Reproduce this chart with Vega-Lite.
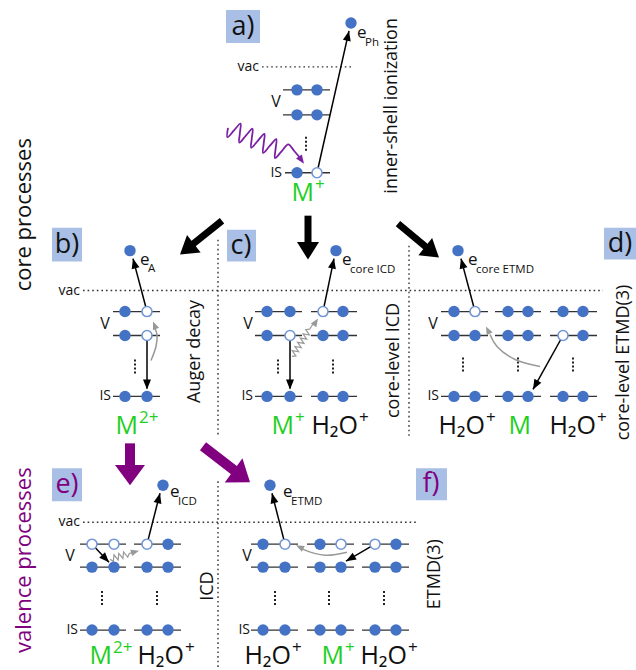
{
  "$schema": "https://vega.github.io/schema/vega-lite/v6.json",
  "width": 636,
  "height": 670,
  "padding": 0,
  "autosize": {"type": "fit", "contains": "padding"},
  "background": "white",
  "config": {"view": {"stroke": null}, "text": {"font": "Open Sans"}},
  "datasets": {
    "box": [
      {"x": 226, "y": 10, "x2": 260, "y2": 43},
      {"x": 52, "y": 228, "x2": 82, "y2": 262},
      {"x": 227, "y": 230, "x2": 256, "y2": 262},
      {"x": 604, "y": 228, "x2": 636, "y2": 260},
      {"x": 52, "y": 469, "x2": 82, "y2": 502},
      {"x": 416, "y": 469, "x2": 447, "y2": 501}
    ],
    "dotted": [
      {"x": 262, "y": 67, "x2": 354, "y2": 67},
      {"x": 83, "y": 291, "x2": 603, "y2": 291},
      {"x": 83, "y": 523, "x2": 417, "y2": 523},
      {"x": 218, "y": 240, "x2": 218, "y2": 438},
      {"x": 218, "y": 482, "x2": 218, "y2": 670},
      {"x": 409, "y": 246, "x2": 409, "y2": 438}
    ],
    "lev": [
      {"x": 283, "x2": 330, "y": 90}, {"x": 283, "x2": 330, "y": 115}, {"x": 285, "x2": 330, "y": 173},
      {"x": 113, "x2": 160, "y": 312}, {"x": 113, "x2": 160, "y": 336}, {"x": 113, "x2": 160, "y": 397},
      {"x": 255, "x2": 302, "y": 312}, {"x": 255, "x2": 302, "y": 336}, {"x": 255, "x2": 302, "y": 397},
      {"x": 311, "x2": 357, "y": 312}, {"x": 311, "x2": 357, "y": 336}, {"x": 311, "x2": 357, "y": 397},
      {"x": 441, "x2": 488, "y": 312}, {"x": 441, "x2": 488, "y": 336}, {"x": 441, "x2": 488, "y": 397},
      {"x": 495, "x2": 541, "y": 312}, {"x": 495, "x2": 541, "y": 336}, {"x": 495, "x2": 541, "y": 397},
      {"x": 550, "x2": 597, "y": 312}, {"x": 550, "x2": 597, "y": 336}, {"x": 550, "x2": 597, "y": 397},
      {"x": 80, "x2": 126, "y": 545}, {"x": 80, "x2": 126, "y": 568}, {"x": 80, "x2": 126, "y": 631},
      {"x": 134, "x2": 181, "y": 545}, {"x": 134, "x2": 181, "y": 568}, {"x": 134, "x2": 181, "y": 631},
      {"x": 251, "x2": 298, "y": 545}, {"x": 251, "x2": 298, "y": 568}, {"x": 251, "x2": 298, "y": 631},
      {"x": 307, "x2": 354, "y": 545}, {"x": 307, "x2": 354, "y": 568}, {"x": 307, "x2": 354, "y": 631},
      {"x": 362, "x2": 409, "y": 545}, {"x": 362, "x2": 409, "y": 568}, {"x": 362, "x2": 409, "y": 631}
    ],
    "vd": [
      {"x": 306, "y": 137, "y2": 153},
      {"x": 135, "y": 360, "y2": 376},
      {"x": 278, "y": 360, "y2": 376}, {"x": 333, "y": 360, "y2": 376},
      {"x": 463, "y": 358, "y2": 374}, {"x": 518, "y": 358, "y2": 374}, {"x": 573, "y": 358, "y2": 374},
      {"x": 102, "y": 592, "y2": 608}, {"x": 157, "y": 592, "y2": 608},
      {"x": 275, "y": 592, "y2": 608}, {"x": 329, "y": 592, "y2": 608}, {"x": 384, "y": 592, "y2": 608}
    ],
    "dots": [
      {"x": 297, "y": 90, "f": 1}, {"x": 317, "y": 90, "f": 1}, {"x": 297, "y": 115, "f": 1}, {"x": 317, "y": 115, "f": 1}, {"x": 297, "y": 173, "f": 1}, {"x": 317, "y": 173, "f": 0},
      {"x": 351, "y": 23, "f": 1}, {"x": 130, "y": 251, "f": 1}, {"x": 336, "y": 251, "f": 1}, {"x": 458, "y": 251, "f": 1}, {"x": 163, "y": 486, "f": 1}, {"x": 270, "y": 486, "f": 1},
      {"x": 125, "y": 312, "f": 1}, {"x": 147, "y": 312, "f": 0}, {"x": 125, "y": 336, "f": 1}, {"x": 147, "y": 336, "f": 0}, {"x": 125, "y": 397, "f": 1}, {"x": 147, "y": 397, "f": 1},
      {"x": 267, "y": 312, "f": 1}, {"x": 290, "y": 312, "f": 1}, {"x": 267, "y": 336, "f": 1}, {"x": 290, "y": 336, "f": 0}, {"x": 267, "y": 397, "f": 1}, {"x": 290, "y": 397, "f": 1},
      {"x": 323, "y": 312, "f": 0}, {"x": 343, "y": 312, "f": 1}, {"x": 323, "y": 336, "f": 1}, {"x": 343, "y": 336, "f": 1}, {"x": 323, "y": 397, "f": 1}, {"x": 343, "y": 397, "f": 1},
      {"x": 454, "y": 312, "f": 1}, {"x": 475, "y": 312, "f": 0}, {"x": 508, "y": 312, "f": 1}, {"x": 528, "y": 312, "f": 1}, {"x": 563, "y": 312, "f": 1}, {"x": 583, "y": 312, "f": 1},
      {"x": 454, "y": 336, "f": 1}, {"x": 475, "y": 336, "f": 1}, {"x": 508, "y": 336, "f": 1}, {"x": 528, "y": 336, "f": 1}, {"x": 563, "y": 336, "f": 0}, {"x": 583, "y": 336, "f": 1},
      {"x": 454, "y": 397, "f": 1}, {"x": 475, "y": 397, "f": 1}, {"x": 508, "y": 397, "f": 1}, {"x": 528, "y": 397, "f": 1}, {"x": 563, "y": 397, "f": 1}, {"x": 583, "y": 397, "f": 1},
      {"x": 92, "y": 545, "f": 0}, {"x": 114, "y": 545, "f": 0}, {"x": 147, "y": 545, "f": 0}, {"x": 168, "y": 545, "f": 1},
      {"x": 92, "y": 568, "f": 1}, {"x": 114, "y": 568, "f": 1}, {"x": 147, "y": 568, "f": 1}, {"x": 168, "y": 568, "f": 1},
      {"x": 92, "y": 631, "f": 1}, {"x": 114, "y": 631, "f": 1}, {"x": 147, "y": 631, "f": 1}, {"x": 168, "y": 631, "f": 1},
      {"x": 263, "y": 545, "f": 1}, {"x": 285, "y": 545, "f": 0}, {"x": 320, "y": 545, "f": 1}, {"x": 341, "y": 545, "f": 0}, {"x": 375, "y": 545, "f": 0}, {"x": 396, "y": 545, "f": 1},
      {"x": 263, "y": 568, "f": 1}, {"x": 285, "y": 568, "f": 1}, {"x": 320, "y": 568, "f": 1}, {"x": 341, "y": 568, "f": 1}, {"x": 375, "y": 568, "f": 1}, {"x": 396, "y": 568, "f": 1},
      {"x": 263, "y": 631, "f": 1}, {"x": 285, "y": 631, "f": 1}, {"x": 320, "y": 631, "f": 1}, {"x": 341, "y": 631, "f": 1}, {"x": 375, "y": 631, "f": 1}, {"x": 396, "y": 631, "f": 1}
    ],
    "photon": [
      {"o": 1, "x": 228, "y": 128}, {"o": 2, "x": 227.4, "y": 137.5}, {"o": 3, "x": 234.0, "y": 130.6}, {"o": 4, "x": 240.5, "y": 123.7},
      {"o": 5, "x": 239.9, "y": 133.2}, {"o": 6, "x": 239.3, "y": 142.8}, {"o": 7, "x": 245.9, "y": 135.8}, {"o": 8, "x": 252.5, "y": 128.9},
      {"o": 9, "x": 251.8, "y": 138.4}, {"o": 10, "x": 251.2, "y": 148.0}, {"o": 11, "x": 257.8, "y": 141.0}, {"o": 12, "x": 264.4, "y": 134.1},
      {"o": 13, "x": 263.7, "y": 143.6}, {"o": 14, "x": 263.1, "y": 153.2}, {"o": 15, "x": 269.7, "y": 146.2}, {"o": 16, "x": 276.3, "y": 139.3},
      {"o": 17, "x": 275.6, "y": 148.9}, {"o": 18, "x": 275.0, "y": 158.4}, {"o": 19, "x": 281.6, "y": 151.5}, {"o": 20, "x": 288.2, "y": 144.5},
      {"o": 21, "x": 294, "y": 151}, {"o": 22, "x": 300, "y": 158}
    ],
    "zig": [
      {"g": "c", "o": 0, "x": 292, "y": 357}, {"g": "c", "o": 1, "x": 295.9, "y": 356.5}, {"g": "c", "o": 2, "x": 292.2, "y": 351.2},
      {"g": "c", "o": 3, "x": 298.6, "y": 352.3}, {"g": "c", "o": 4, "x": 294.9, "y": 347.0}, {"g": "c", "o": 5, "x": 301.3, "y": 348.1},
      {"g": "c", "o": 6, "x": 297.6, "y": 342.8}, {"g": "c", "o": 7, "x": 304.0, "y": 343.9}, {"g": "c", "o": 8, "x": 300.3, "y": 338.6},
      {"g": "c", "o": 9, "x": 306.7, "y": 339.7}, {"g": "c", "o": 10, "x": 303.0, "y": 334.4}, {"g": "c", "o": 11, "x": 309.4, "y": 335.5},
      {"g": "c", "o": 12, "x": 305.7, "y": 330.2}, {"g": "c", "o": 13, "x": 309.6, "y": 329.7}, {"g": "c", "o": 14, "x": 314, "y": 323},
      {"g": "e", "o": 0, "x": 110, "y": 560}, {"g": "e", "o": 1, "x": 113.3, "y": 562.2}, {"g": "e", "o": 2, "x": 114.0, "y": 555.7},
      {"g": "e", "o": 3, "x": 118.1, "y": 560.8}, {"g": "e", "o": 4, "x": 118.8, "y": 554.3}, {"g": "e", "o": 5, "x": 122.9, "y": 559.3},
      {"g": "e", "o": 6, "x": 123.6, "y": 552.8}, {"g": "e", "o": 7, "x": 127.7, "y": 557.9}, {"g": "e", "o": 8, "x": 129.3, "y": 554.3},
      {"g": "e", "o": 9, "x": 134, "y": 553}
    ],
    "arcs": [
      {"g": "b", "o": 1, "x": 151, "y": 361}, {"g": "b", "o": 2, "x": 156, "y": 347}, {"g": "b", "o": 3, "x": 157, "y": 335}, {"g": "b", "o": 4, "x": 155, "y": 329},
      {"g": "d", "o": 1, "x": 540, "y": 367}, {"g": "d", "o": 2, "x": 515, "y": 360}, {"g": "d", "o": 3, "x": 497, "y": 347}, {"g": "d", "o": 4, "x": 490, "y": 335},
      {"g": "f", "o": 1, "x": 347, "y": 553}, {"g": "f", "o": 2, "x": 325, "y": 556}, {"g": "f", "o": 3, "x": 305, "y": 551}, {"g": "f", "o": 4, "x": 300, "y": 548}
    ],
    "thin": [
      {"x": 317, "y": 173, "x2": 349, "y2": 31},
      {"x": 147, "y": 312, "x2": 133, "y2": 259},
      {"x": 147, "y": 336, "x2": 147, "y2": 389},
      {"x": 290, "y": 336, "x2": 290, "y2": 389},
      {"x": 323, "y": 312, "x2": 334, "y2": 259},
      {"x": 475, "y": 312, "x2": 461, "y2": 259},
      {"x": 563, "y": 336, "x2": 533, "y2": 390},
      {"x": 92, "y": 545, "x2": 109, "y2": 563},
      {"x": 147, "y": 545, "x2": 160, "y2": 494},
      {"x": 285, "y": 545, "x2": 272, "y2": 494},
      {"x": 375, "y": 545, "x2": 346, "y2": 562}
    ],
    "big": [
      {"x": 222, "y": 221, "x2": 191, "y2": 246},
      {"x": 308, "y": 216, "x2": 308, "y2": 245},
      {"x": 398, "y": 224, "x2": 428, "y2": 249}
    ],
    "pur": [
      {"x": 130, "y": 444, "x2": 130, "y2": 470},
      {"x": 203, "y": 447, "x2": 238, "y2": 474}
    ],
    "headThin": [
      {"x": 349, "y": 31, "a": 12.7}, {"x": 133, "y": 259, "a": -14.8}, {"x": 147, "y": 390, "a": 180},
      {"x": 290, "y": 390, "a": 180}, {"x": 334, "y": 259, "a": 11.7}, {"x": 461, "y": 259, "a": -14.8},
      {"x": 533, "y": 390, "a": -150.9}, {"x": 109, "y": 563, "a": 136.6}, {"x": 160, "y": 494, "a": 14.3},
      {"x": 272, "y": 494, "a": -14.3}, {"x": 346, "y": 562, "a": -120.4}
    ],
    "headGray": [
      {"x": 153, "y": 322, "a": -21.8}, {"x": 486, "y": 327, "a": -26.6}, {"x": 296, "y": 546, "a": -63.4},
      {"x": 318, "y": 319, "a": 32.7}, {"x": 139, "y": 551.5, "a": 73.5}
    ],
    "headPhoton": [{"x": 304, "y": 164, "a": 145}],
    "headBig": [
      {"x": 180, "y": 255, "a": -128.2}, {"x": 308, "y": 260, "a": 180}, {"x": 439, "y": 258, "a": 128.7}
    ],
    "headPur": [
      {"x": 130, "y": 486, "a": 180}, {"x": 250, "y": 483, "a": 126.1}
    ],
    "panel": [
      {"x": 243, "y": 27, "t": "a)", "g": "k"}, {"x": 67, "y": 245, "t": "b)", "g": "k"},
      {"x": 241, "y": 246, "t": "c)", "g": "k"}, {"x": 620, "y": 244, "t": "d)", "g": "k"},
      {"x": 67, "y": 486, "t": "e)", "g": "p"}, {"x": 431, "y": 485, "t": "f)", "g": "p"}
    ],
    "side": [
      {"x": 24, "y": 215, "t": "core processes", "g": "k"},
      {"x": 24, "y": 561, "t": "valence processes", "g": "p"}
    ],
    "proc": [
      {"x": 392, "y": 106, "t": "inner-shell ionization"},
      {"x": 195, "y": 352, "t": "Auger decay"},
      {"x": 394, "y": 361, "t": "core-level ICD"},
      {"x": 624, "y": 363, "t": "core-level ETMD(3)"},
      {"x": 208, "y": 587, "t": "ICD"},
      {"x": 435, "y": 575, "t": "ETMD(3)"}
    ],
    "vac": [
      {"x": 259, "y": 67, "t": "vac"}, {"x": 80, "y": 291, "t": "vac"}, {"x": 80, "y": 523, "t": "vac"}
    ],
    "vlab": [
      {"x": 276, "y": 102, "t": "V"}, {"x": 105, "y": 324, "t": "V"}, {"x": 248, "y": 324, "t": "V"},
      {"x": 433, "y": 324, "t": "V"}, {"x": 70, "y": 557, "t": "V"}, {"x": 247, "y": 557, "t": "V"}
    ],
    "islab": [
      {"x": 282, "y": 173, "t": "IS"}, {"x": 111, "y": 397, "t": "IS"}, {"x": 253, "y": 397, "t": "IS"},
      {"x": 439, "y": 397, "t": "IS"}, {"x": 78, "y": 631, "t": "IS"}, {"x": 250, "y": 631, "t": "IS"}
    ],
    "elab": [
      {"x": 357, "y": 38, "t": "e"}, {"x": 140, "y": 265, "t": "e"}, {"x": 342, "y": 265, "t": "e"},
      {"x": 468, "y": 265, "t": "e"}, {"x": 170, "y": 498, "t": "e"}, {"x": 283, "y": 498, "t": "e"}
    ],
    "esub": [
      {"x": 365, "y": 46, "t": "Ph"}, {"x": 148, "y": 272, "t": "A"}, {"x": 350, "y": 273, "t": "core ICD"},
      {"x": 476, "y": 273, "t": "core ETMD"}, {"x": 178, "y": 506, "t": "ICD"}, {"x": 291, "y": 506, "t": "ETMD"}
    ],
    "spBase": [
      {"x": 314, "y": 201, "t": "M", "g": "g"},
      {"x": 138, "y": 435, "t": "M", "g": "g"},
      {"x": 294, "y": 435, "t": "M", "g": "g"}, {"x": 358, "y": 435, "t": "H₂O", "g": "k"},
      {"x": 485, "y": 435, "t": "H₂O", "g": "k"}, {"x": 531, "y": 435, "t": "M", "g": "g"}, {"x": 596, "y": 435, "t": "H₂O", "g": "k"},
      {"x": 112, "y": 665, "t": "M", "g": "g"}, {"x": 184, "y": 665, "t": "H₂O", "g": "k"},
      {"x": 291, "y": 665, "t": "H₂O", "g": "k"}, {"x": 344, "y": 665, "t": "M", "g": "g"}, {"x": 407, "y": 665, "t": "H₂O", "g": "k"}
    ],
    "spSup": [
      {"x": 315, "y": 190, "t": "+", "g": "g"},
      {"x": 139, "y": 424, "t": "2+", "g": "g"},
      {"x": 295, "y": 424, "t": "+", "g": "g"}, {"x": 359, "y": 424, "t": "+", "g": "k"},
      {"x": 486, "y": 424, "t": "+", "g": "k"}, {"x": 597, "y": 424, "t": "+", "g": "k"},
      {"x": 113, "y": 654, "t": "2+", "g": "g"}, {"x": 185, "y": 654, "t": "+", "g": "k"},
      {"x": 292, "y": 654, "t": "+", "g": "k"}, {"x": 345, "y": 654, "t": "+", "g": "g"}, {"x": 408, "y": 654, "t": "+", "g": "k"}
    ]
  },
  "encoding": {
    "x": {"field": "x", "type": "quantitative", "scale": {"domain": [0, 636], "nice": false, "zero": false}, "axis": null},
    "y": {"field": "y", "type": "quantitative", "scale": {"domain": [0, 670], "nice": false, "zero": false, "reverse": true}, "axis": null}
  },
  "layer": [
    {"data": {"name": "box"}, "mark": {"type": "rect", "color": "#a9bfe5"},
     "encoding": {"x2": {"field": "x2"}, "y2": {"field": "y2"}}},
    {"data": {"name": "dotted"}, "mark": {"type": "rule", "color": "#333333", "strokeWidth": 1.4, "strokeDash": [1.6, 3]},
     "encoding": {"x2": {"field": "x2"}, "y2": {"field": "y2"}}},
    {"data": {"name": "lev"}, "mark": {"type": "rule", "color": "#333333", "strokeWidth": 1.3},
     "encoding": {"x2": {"field": "x2"}}},
    {"data": {"name": "vd"}, "mark": {"type": "rule", "color": "#222222", "strokeWidth": 2, "strokeDash": [2, 2]},
     "encoding": {"y2": {"field": "y2"}}},
    {"data": {"name": "photon"}, "mark": {"type": "line", "color": "#7a1fa2", "strokeWidth": 1.8, "interpolate": "cardinal"},
     "encoding": {"order": {"field": "o", "type": "quantitative"}}},
    {"data": {"name": "zig"}, "mark": {"type": "line", "color": "#999999", "strokeWidth": 1.2},
     "encoding": {"detail": {"field": "g"}, "order": {"field": "o", "type": "quantitative"}}},
    {"data": {"name": "arcs"}, "mark": {"type": "line", "color": "#999999", "strokeWidth": 1.5, "interpolate": "natural"},
     "encoding": {"detail": {"field": "g"}, "order": {"field": "o", "type": "quantitative"}}},
    {"data": {"name": "thin"}, "mark": {"type": "rule", "color": "#000000", "strokeWidth": 1.5},
     "encoding": {"x2": {"field": "x2"}, "y2": {"field": "y2"}}},
    {"data": {"name": "big"}, "mark": {"type": "rule", "color": "#000000", "strokeWidth": 7},
     "encoding": {"x2": {"field": "x2"}, "y2": {"field": "y2"}}},
    {"data": {"name": "pur"}, "mark": {"type": "rule", "color": "#800080", "strokeWidth": 10},
     "encoding": {"x2": {"field": "x2"}, "y2": {"field": "y2"}}},
    {"data": {"name": "dots"}, "transform": [{"filter": "datum.f == 1"}],
     "mark": {"type": "point", "shape": "circle", "filled": true, "size": 130, "color": "#4472c4", "opacity": 1}},
    {"data": {"name": "dots"}, "transform": [{"filter": "datum.f == 0"}],
     "mark": {"type": "point", "shape": "circle", "filled": false, "size": 100, "fill": "#ffffff", "fillOpacity": 1, "stroke": "#7397d6", "strokeWidth": 1.6, "opacity": 1}},
    {"data": {"name": "headThin"}, "mark": {"type": "point", "shape": "M0,0L-0.5,1.25L0.5,1.25Z", "filled": true, "size": 256, "color": "#000000", "opacity": 1},
     "encoding": {"angle": {"field": "a", "type": "quantitative", "scale": null}}},
    {"data": {"name": "headGray"}, "mark": {"type": "point", "shape": "M0,0L-0.5,1.25L0.5,1.25Z", "filled": true, "size": 170, "color": "#999999", "opacity": 1},
     "encoding": {"angle": {"field": "a", "type": "quantitative", "scale": null}}},
    {"data": {"name": "headPhoton"}, "mark": {"type": "point", "shape": "M0,0L-0.5,1.25L0.5,1.25Z", "filled": true, "size": 200, "color": "#7a1fa2", "opacity": 1},
     "encoding": {"angle": {"field": "a", "type": "quantitative", "scale": null}}},
    {"data": {"name": "headBig"}, "mark": {"type": "point", "shape": "M0,0L-1,1.6L1,1.6Z", "filled": true, "size": 484, "color": "#000000", "opacity": 1},
     "encoding": {"angle": {"field": "a", "type": "quantitative", "scale": null}}},
    {"data": {"name": "headPur"}, "mark": {"type": "point", "shape": "M0,0L-1,1.35L1,1.35Z", "filled": true, "size": 900, "color": "#800080", "opacity": 1},
     "encoding": {"angle": {"field": "a", "type": "quantitative", "scale": null}}},
    {"data": {"name": "panel"}, "mark": {"type": "text", "fontSize": 27, "align": "center", "baseline": "middle"},
     "encoding": {"text": {"field": "t"}, "color": {"field": "g", "type": "nominal", "scale": {"domain": ["k", "p", "g"], "range": ["#111111", "#800080", "#1fcf1f"]}, "legend": null}}},
    {"data": {"name": "side"}, "mark": {"type": "text", "fontSize": 22, "angle": 270, "align": "center", "baseline": "middle"},
     "encoding": {"text": {"field": "t"}, "color": {"field": "g", "type": "nominal", "scale": {"domain": ["k", "p", "g"], "range": ["#111111", "#800080", "#1fcf1f"]}, "legend": null}}},
    {"data": {"name": "proc"}, "mark": {"type": "text", "fontSize": 18, "angle": 270, "align": "center", "baseline": "middle", "color": "#111111"},
     "encoding": {"text": {"field": "t"}}},
    {"data": {"name": "vac"}, "mark": {"type": "text", "fontSize": 14, "align": "right", "baseline": "middle", "color": "#111111"},
     "encoding": {"text": {"field": "t"}}},
    {"data": {"name": "vlab"}, "mark": {"type": "text", "fontSize": 16, "align": "center", "baseline": "middle", "color": "#111111"},
     "encoding": {"text": {"field": "t"}}},
    {"data": {"name": "islab"}, "mark": {"type": "text", "fontSize": 14, "align": "right", "baseline": "middle", "color": "#111111"},
     "encoding": {"text": {"field": "t"}}},
    {"data": {"name": "elab"}, "mark": {"type": "text", "fontSize": 17, "align": "left", "baseline": "alphabetic", "color": "#111111"},
     "encoding": {"text": {"field": "t"}}},
    {"data": {"name": "esub"}, "mark": {"type": "text", "fontSize": 11.5, "align": "left", "baseline": "alphabetic", "color": "#111111"},
     "encoding": {"text": {"field": "t"}}},
    {"data": {"name": "spBase"}, "mark": {"type": "text", "fontSize": 25, "align": "right", "baseline": "alphabetic"},
     "encoding": {"text": {"field": "t"}, "color": {"field": "g", "type": "nominal", "scale": {"domain": ["k", "p", "g"], "range": ["#111111", "#800080", "#1fcf1f"]}, "legend": null}}},
    {"data": {"name": "spSup"}, "mark": {"type": "text", "fontSize": 17, "align": "left", "baseline": "alphabetic"},
     "encoding": {"text": {"field": "t"}, "color": {"field": "g", "type": "nominal", "scale": {"domain": ["k", "p", "g"], "range": ["#111111", "#800080", "#1fcf1f"]}, "legend": null}}}
  ]
}
